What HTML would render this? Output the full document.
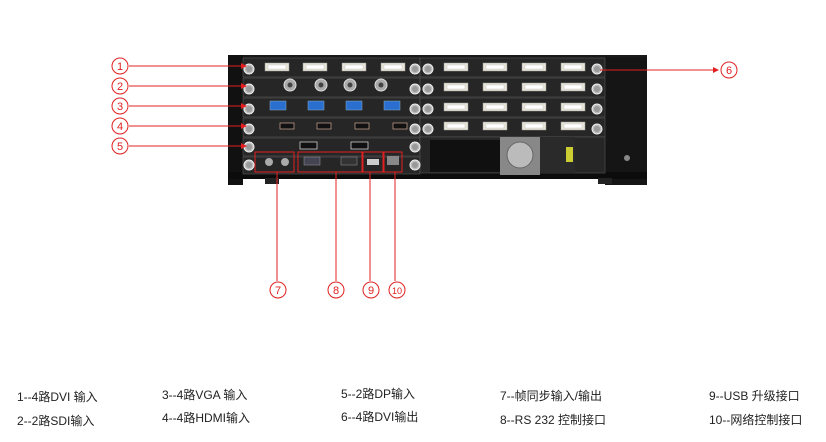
<!DOCTYPE html>
<html><head><meta charset="utf-8"><style>
body{margin:0;background:#fff;width:826px;height:442px;overflow:hidden;font-family:"Liberation Sans","Noto Sans CJK SC",sans-serif}
svg{position:absolute;left:0;top:0}
</style></head><body>
<svg width="826" height="442" viewBox="0 0 826 442">
<defs>
<marker id="a" markerWidth="6" markerHeight="6" refX="5" refY="3" orient="auto"><path d="M0,0 L6,3 L0,6z" fill="#e02020"/></marker>
<g id="dvi"><rect x="0" y="0" width="24" height="8" fill="#e8e4d8" stroke="#999" stroke-width=".5"/><rect x="3" y="2" width="18" height="4" fill="#fff" stroke="#bbb" stroke-width=".4"/></g>
<g id="knob"><circle cx="0" cy="0" r="5" fill="#bbb" stroke="#eee" stroke-width="1"/><circle cx="0" cy="0" r="3" fill="#999"/></g>
</defs>
<!-- chassis -->
<rect x="228" y="55" width="419" height="123" fill="#1a1a1a"/>
<rect x="228" y="55" width="15" height="130" fill="#111"/>
<rect x="605" y="57" width="42" height="128" fill="#151515"/>
<rect x="228" y="172" width="419" height="7" fill="#0c0c0c"/>
<rect x="265" y="178" width="14" height="6" fill="#222"/>
<rect x="598" y="178" width="14" height="6" fill="#222"/>
<!-- rows left -->
<g fill="#262626" stroke="#555" stroke-width=".6">
<rect x="243" y="58" width="177" height="19"/><rect x="243" y="78" width="177" height="19"/>
<rect x="243" y="98" width="177" height="19"/><rect x="243" y="118" width="177" height="19"/>
<rect x="243" y="138" width="177" height="18"/><rect x="243" y="157" width="177" height="17"/>
<rect x="420" y="58" width="185" height="19"/><rect x="420" y="78" width="185" height="19"/>
<rect x="420" y="98" width="185" height="19"/><rect x="420" y="118" width="185" height="19"/>
<rect x="420" y="137" width="185" height="36"/>
</g>
<!-- knobs -->
<use href="#knob" x="249" y="69"/><use href="#knob" x="249" y="89"/><use href="#knob" x="249" y="109"/><use href="#knob" x="249" y="129"/><use href="#knob" x="249" y="147"/><use href="#knob" x="249" y="165"/>
<use href="#knob" x="415" y="69"/><use href="#knob" x="415" y="89"/><use href="#knob" x="415" y="109"/><use href="#knob" x="415" y="129"/><use href="#knob" x="415" y="147"/><use href="#knob" x="415" y="165"/>
<use href="#knob" x="428" y="69"/><use href="#knob" x="428" y="89"/><use href="#knob" x="428" y="109"/><use href="#knob" x="428" y="129"/>
<use href="#knob" x="597" y="69"/><use href="#knob" x="597" y="89"/><use href="#knob" x="597" y="109"/><use href="#knob" x="597" y="129"/>
<!-- row1 DVI left -->
<use href="#dvi" x="265" y="63"/><use href="#dvi" x="303" y="63"/><use href="#dvi" x="342" y="63"/><use href="#dvi" x="381" y="63"/>
<!-- right DVI -->
<g><use href="#dvi" x="444" y="63"/><use href="#dvi" x="483" y="63"/><use href="#dvi" x="522" y="63"/><use href="#dvi" x="561" y="63"/>
<use href="#dvi" x="444" y="83"/><use href="#dvi" x="483" y="83"/><use href="#dvi" x="522" y="83"/><use href="#dvi" x="561" y="83"/>
<use href="#dvi" x="444" y="103"/><use href="#dvi" x="483" y="103"/><use href="#dvi" x="522" y="103"/><use href="#dvi" x="561" y="103"/>
<use href="#dvi" x="444" y="122"/><use href="#dvi" x="483" y="122"/><use href="#dvi" x="522" y="122"/><use href="#dvi" x="561" y="122"/></g>
<!-- SDI -->
<g fill="#aaa" stroke="#ddd"><circle cx="290" cy="85" r="6"/><circle cx="321" cy="85" r="6"/><circle cx="350" cy="85" r="6"/><circle cx="381" cy="85" r="6"/></g>
<g fill="#444"><circle cx="290" cy="85" r="2.5"/><circle cx="321" cy="85" r="2.5"/><circle cx="350" cy="85" r="2.5"/><circle cx="381" cy="85" r="2.5"/></g>
<!-- VGA -->
<g fill="#2a6fd0" stroke="#8ab" stroke-width=".5"><rect x="270" y="101" width="16" height="9"/><rect x="308" y="101" width="16" height="9"/><rect x="346" y="101" width="16" height="9"/><rect x="384" y="101" width="16" height="9"/></g>
<!-- HDMI -->
<g fill="#111" stroke="#b98" stroke-width=".8"><rect x="280" y="123" width="14" height="6"/><rect x="317" y="123" width="14" height="6"/><rect x="355" y="123" width="14" height="6"/><rect x="393" y="123" width="14" height="6"/></g>
<!-- DP -->
<g fill="#111" stroke="#ccc" stroke-width=".8"><rect x="300" y="142" width="17" height="7"/><rect x="351" y="142" width="17" height="7"/></g>
<!-- bottom connectors -->
<circle cx="269" cy="162" r="4" fill="#aaa"/><circle cx="285" cy="162" r="4" fill="#aaa"/>
<rect x="304" y="157" width="16" height="8" fill="#445" stroke="#999" stroke-width=".5"/><rect x="341" y="157" width="16" height="8" fill="#333" stroke="#999" stroke-width=".5"/>
<rect x="367" y="159" width="12" height="6" fill="#ccc"/><rect x="387" y="156" width="12" height="9" fill="#888"/>
<!-- right bottom -->
<rect x="430" y="140" width="70" height="32" fill="#101010"/>
<rect x="500" y="137" width="40" height="38" fill="#888"/><circle cx="520" cy="155" r="13" fill="#bbb" stroke="#666"/>
<rect x="540" y="137" width="35" height="36" fill="#2a2a2a"/><rect x="566" y="147" width="7" height="15" fill="#cc3"/>
<circle cx="627" cy="158" r="3" fill="#888"/>
<!-- red boxes -->
<g fill="none" stroke="#e02020" stroke-width="1">
<rect x="255" y="152" width="39" height="20"/><rect x="298" y="152" width="64" height="20"/><rect x="363" y="152" width="20" height="20"/><rect x="384" y="152" width="18" height="20"/>
</g>
<g stroke="#e02020" stroke-width="1" fill="none">
<line x1="129" y1="66" x2="246" y2="66" marker-end="url(#a)"/>
<line x1="129" y1="86" x2="246" y2="86" marker-end="url(#a)"/>
<line x1="129" y1="106" x2="246" y2="106" marker-end="url(#a)"/>
<line x1="129" y1="126" x2="246" y2="126" marker-end="url(#a)"/>
<line x1="129" y1="146" x2="246" y2="146" marker-end="url(#a)"/>
<line x1="600" y1="70" x2="718" y2="70" marker-end="url(#a)"/>
<line x1="277" y1="172" x2="277" y2="281"/><line x1="336" y1="172" x2="336" y2="281"/><line x1="370" y1="172" x2="370" y2="281"/><line x1="395" y1="172" x2="395" y2="281"/>
</g>
<g fill="#fff" stroke="#e02020" stroke-width="1">
<circle cx="120" cy="66" r="8"/><circle cx="120" cy="86" r="8"/><circle cx="120" cy="106" r="8"/><circle cx="120" cy="126" r="8"/><circle cx="120" cy="146" r="8"/><circle cx="729" cy="70" r="8"/>
<circle cx="278" cy="290" r="8"/><circle cx="336" cy="290" r="8"/><circle cx="371" cy="290" r="8"/><circle cx="397" cy="290" r="8"/>
</g>
<g fill="#e02020" font-size="11" text-anchor="middle" font-family="Liberation Sans,sans-serif">
<text x="120" y="70">1</text><text x="120" y="90">2</text><text x="120" y="110">3</text><text x="120" y="130">4</text><text x="120" y="150">5</text><text x="729" y="74">6</text>
<text x="278" y="294">7</text><text x="336" y="294">8</text><text x="371" y="294">9</text><text x="397" y="294" font-size="9">10</text>
</g>
<g fill="#222" font-size="12" font-family="Liberation Sans,Noto Sans CJK SC,sans-serif">
<text x="17" y="401">1--4路DVI 输入</text><text x="17" y="425">2--2路SDI输入</text>
<text x="162" y="399">3--4路VGA 输入</text><text x="162" y="422">4--4路HDMI输入</text>
<text x="341" y="398">5--2路DP输入</text><text x="341" y="421">6--4路DVI输出</text>
<text x="500" y="400">7--帧同步输入/输出</text><text x="500" y="424">8--RS 232 控制接口</text>
<text x="709" y="400">9--USB 升级接口</text><text x="709" y="424">10--网络控制接口</text>
</g>
</svg>
</body></html>
